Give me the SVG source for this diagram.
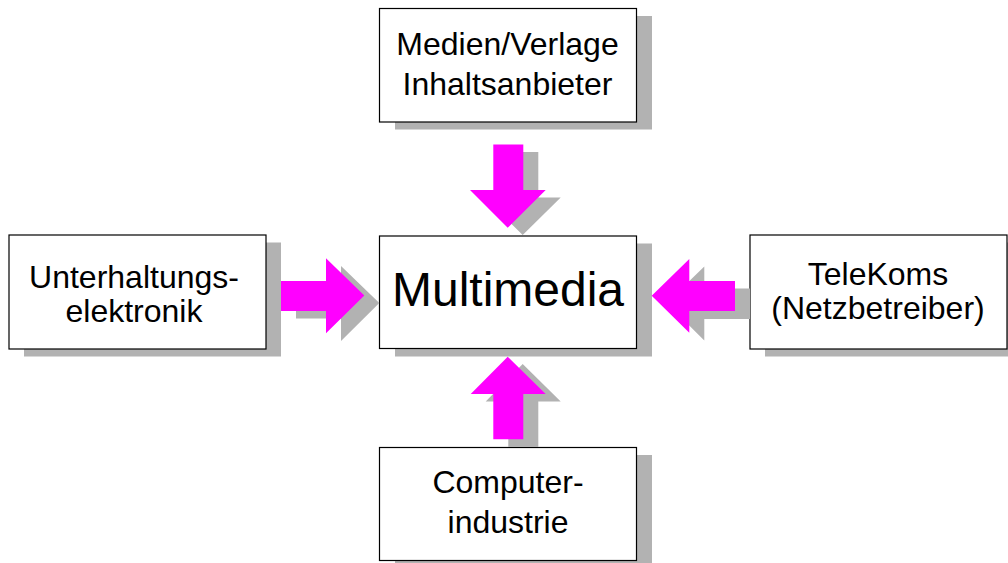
<svg xmlns="http://www.w3.org/2000/svg" width="1008" height="563" viewBox="0 0 1008 563">
<style>
.sh{fill:#b2b2b2}
.box{fill:#fff;stroke:#000;stroke-width:1.2}
.t{font-family:"Liberation Sans",Arial,sans-serif;font-size:32px;fill:#000;text-anchor:middle}
.big{font-size:48px}
.ar{fill:#ff00ff}
</style>
<rect width="1008" height="563" fill="#fff"/>
<g id="node-medien">
<rect class="sh" x="395" y="16" width="257" height="113.5"/>
<rect class="box" x="379.5" y="8.5" width="257" height="113.5"/>
<text class="t" x="507.5" y="55">Medien/Verlage</text>
<text class="t" x="507.5" y="94.5">Inhaltsanbieter</text>
</g>
<g id="node-unterhaltung">
<rect class="sh" x="24" y="242.5" width="257" height="114"/>
<rect class="box" x="9" y="235" width="257" height="114"/>
<text class="t" x="134" y="288">Unterhaltungs-</text>
<text class="t" x="134" y="321.5">elektronik</text>
</g>
<g id="node-multimedia">
<rect class="sh" x="395" y="243.5" width="257" height="113"/>
<rect class="box" x="379.5" y="236" width="257" height="112.5"/>
<text class="t big" x="508" y="306">Multimedia</text>
</g>
<g id="node-telekoms">
<rect class="sh" x="765" y="242.5" width="257" height="114"/>
<rect class="box" x="750" y="235" width="257" height="114"/>
<text class="t" x="878" y="285">TeleKoms</text>
<text class="t" x="878" y="319">(Netzbetreiber)</text>
</g>
<g id="node-computer">
<rect class="sh" x="395" y="455" width="257" height="114"/>
<rect class="box" x="379.5" y="447.5" width="257" height="113"/>
<text class="t" x="508" y="493">Computer-</text>
<text class="t" x="508" y="533">industrie</text>
</g>
<g id="connectors">
<g id="arrow-down">
<polygon class="sh" points="508.3,152 538.3,152 538.3,197.5 560.7,197.5 522.7,235 485,197.5 508.3,197.5"/>
<polygon class="ar" points="493.3,144.5 523.3,144.5 523.3,190 545.7,190 507.7,227.7 470,190 493.3,190"/>
</g>
<g id="arrow-up">
<polygon class="sh" points="522.7,364 560.7,401.5 538.3,401.5 538.3,447 508.3,447 508.3,401.5 485.7,401.5"/>
<polygon class="ar" points="507.7,356.7 545.7,394 523.3,394 523.3,439.3 493.3,439.3 493.3,394 470.7,394"/>
</g>
<g id="arrow-right">
<polygon class="sh" points="296,288.5 341,288.5 341,266 379.3,303 341,341 341,318.5 296,318.5"/>
<polygon class="ar" points="281,281 326,281 326,258.3 364.3,295.5 326,333.3 326,311 281,311"/>
</g>
<g id="arrow-left">
<polygon class="sh" points="666.7,303 704.3,266.5 704.3,288.5 750,288.5 750,319 704.3,319 704.3,340.5"/>
<polygon class="ar" points="651.7,295.7 689.3,259 689.3,281 735,281 735,311 689.3,311 689.3,332.7"/>
</g>
</g>
</svg>
